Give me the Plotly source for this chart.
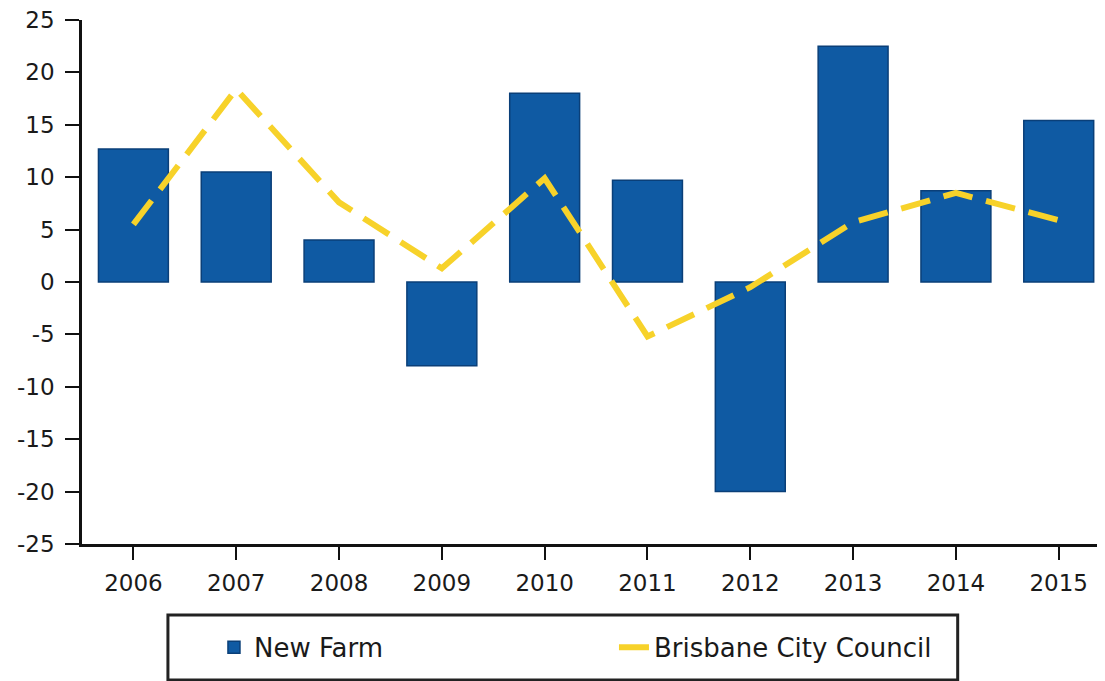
import plotly.graph_objects as go

# dados
anos = ['2006', '2007', '2008', '2009', '2010', '2011', '2012', '2013', '2014', '2015']
new_farm = [12.7, 10.5, 4.0, -8.0, 18.0, 9.7, -20.0, 22.5, 8.7, 15.4]
brisbane = [5.5, 18.4, 7.6, 1.3, 9.9, -5.2, -0.5, 5.7, 8.5, 5.9]
y_ticks = [25, 20, 15, 10, 5, 0, -5, -10, -15, -20, -25]
y_labels = ['25', '20', '15', '10', '5', '0', '-5', '-10', '-15', '-20', '-25']

fonte = dict(family='DejaVu Sans', size=23, color='#1a1a1a')

fig = go.Figure()

fig.add_trace(go.Bar(
    x=anos, y=new_farm, name='New Farm',
    marker=dict(color='#0f5aa3', line=dict(color='#0a3f78', width=1.5)),
    width=0.68,
))

fig.add_trace(go.Scatter(
    x=anos, y=brisbane, name='Brisbane City Council',
    mode='lines', line=dict(color='#f7d22a', width=6, dash='30px,14px'),
))

# caixa da legenda
fig.add_shape(
    type='rect', xref='paper', yref='paper',
    x0=0.084, x1=0.856, y0=-0.2595, y1=-0.1355,
    line=dict(color='#222222', width=3), fillcolor='white', layer='below',
)

# a página tem margem de 8px no body, por isso a figura é um pouco menor
fig.update_layout(
    width=1097, height=673,
    margin=dict(l=74, r=0, t=12, b=137),
    paper_bgcolor='white', plot_bgcolor='white',
    font=fonte,
    showlegend=True,
    legend=dict(
        orientation='h', x=0.129, y=-0.197, xanchor='left', yanchor='middle',
        borderwidth=0, bgcolor='rgba(0,0,0,0)',
        font=dict(family='DejaVu Sans', size=26, color='#1a1a1a'),
        entrywidth=355, traceorder='normal',
    ),
    bargap=0.32,
)

fig.update_xaxes(
    type='category', range=[-0.5, 9.45], automargin=False,
    showline=True, linecolor='#111111', linewidth=2.5,
    ticks='outside', ticklen=13, tickwidth=2, tickcolor='#111111',
    ticklabelstandoff=4, ticklabeloverflow='allow',
    showgrid=False, zeroline=False,
)
fig.update_yaxes(
    range=[-25, 25], tickvals=y_ticks, ticktext=y_labels, automargin=False,
    showline=True, linecolor='#111111', linewidth=2.5,
    ticks='outside', ticklen=14, tickwidth=2, tickcolor='#111111',
    ticklabelstandoff=6, ticklabeloverflow='allow',
    showgrid=False, zeroline=False,
)

fig.write_html('out.html')
